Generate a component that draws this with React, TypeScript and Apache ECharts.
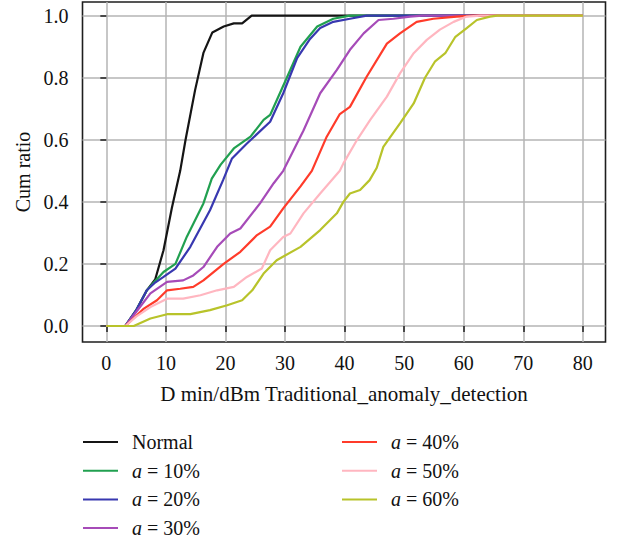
import React, { useEffect, useRef } from "react";
import * as echarts from "echarts";

const seriesNames = ["Normal", "a = 10%", "a = 20%", "a = 30%", "a = 40%", "a = 50%", "a = 60%"];
const seriesColors = ["#151515", "#21a050", "#3838b0", "#a64bb8", "#ff3b2a", "#ffb6c0", "#b8c32a"];

const normal = [[0,0],[3.2,0],[5,0.05],[6.8,0.115],[8.2,0.15],[9.6,0.244],[11,0.38],[12.4,0.5],[13.3,0.6],[14.9,0.76],[16.3,0.88],[17.8,0.946],[19.7,0.965],[21.4,0.975],[22.8,0.975],[24.4,1.0],[80,1.0]];
const a10 = [[0,0],[3.2,0],[5,0.05],[6.8,0.115],[8.2,0.145],[9.6,0.174],[11.6,0.2],[13.5,0.287],[16.3,0.395],[17.7,0.475],[19.2,0.52],[21.4,0.572],[24.2,0.61],[26.4,0.664],[27.5,0.68],[30.3,0.8],[32.6,0.9],[35.4,0.965],[38.1,0.99],[40.9,1.0],[80,1.0]];
const a20 = [[0,0],[3.2,0],[5,0.05],[6.8,0.115],[8.2,0.14],[9.6,0.158],[11.6,0.185],[14.1,0.255],[17.4,0.373],[19.6,0.47],[21.1,0.54],[23.6,0.588],[27.5,0.658],[29.7,0.75],[32,0.862],[34.2,0.925],[35.9,0.96],[38.1,0.98],[40.9,0.99],[43.7,1.0],[80,1.0]];
const a30 = [[0,0],[3.2,0],[5,0.045],[7.4,0.105],[10.2,0.142],[12.9,0.147],[14.6,0.163],[16.3,0.19],[18.6,0.255],[20.8,0.298],[22.5,0.314],[25.8,0.395],[28.1,0.46],[29.7,0.5],[33.1,0.63],[35.9,0.75],[38.7,0.825],[40.9,0.89],[43.2,0.943],[45.7,0.986],[48.2,0.99],[51,0.997],[53,1.0],[80,1.0]];
const a40 = [[0,0],[3.2,0],[6.3,0.056],[8.5,0.083],[10.2,0.115],[12.4,0.12],[14.6,0.126],[16.3,0.147],[19.7,0.2],[22.5,0.239],[25.3,0.293],[27.5,0.32],[29.7,0.379],[32.6,0.45],[34.5,0.5],[37,0.61],[39.2,0.683],[40.9,0.706],[43.7,0.803],[47.1,0.91],[49.3,0.943],[52.1,0.98],[54.9,0.99],[58.8,0.997],[61.6,1.0],[80,1.0]];
const a50 = [[0,0],[3.2,0],[5,0.03],[7.4,0.061],[10.2,0.088],[12.9,0.088],[15.8,0.099],[18.6,0.115],[21.4,0.126],[23.6,0.158],[26.1,0.185],[27.5,0.244],[29.7,0.287],[30.9,0.298],[33.1,0.363],[35.9,0.427],[39.2,0.5],[39.8,0.524],[42.1,0.6],[44.3,0.664],[47.1,0.739],[49.3,0.814],[51.6,0.879],[53.8,0.922],[56,0.955],[58.3,0.98],[60.5,0.997],[62.8,1.0],[80,1.0]];
const a60 = [[0,0],[4.6,0],[7.4,0.024],[10.2,0.038],[14.1,0.038],[17.4,0.051],[20.3,0.067],[22.8,0.083],[24.5,0.115],[26.4,0.169],[28.6,0.212],[32.6,0.255],[35.9,0.309],[38.7,0.363],[39.8,0.4],[40.9,0.427],[42.6,0.438],[44.2,0.47],[45.4,0.51],[46.5,0.577],[49.3,0.653],[51.6,0.717],[53.5,0.8],[55.2,0.853],[56.9,0.879],[58.6,0.932],[60.5,0.96],[62.2,0.986],[64.4,0.997],[65.6,1.0],[80,1.0]];
const allData = [normal, a10, a20, a30, a40, a50, a60];

const xTicks = [0, 10, 20, 30, 40, 50, 60, 70, 80];
const yTicks = [0, 0.2, 0.4, 0.6, 0.8, 1.0];

const FONT = "Liberation Serif, DejaVu Serif, serif";

export default function App() {
  const ref = useRef<HTMLDivElement>(null);
  useEffect(() => {
    document.body.style.margin = "0";
    const chart = echarts.init(ref.current!, null, { renderer: "svg" });
    const tok = { fontFamily: FONT, fontSize: 20, lineHeight: 20, color: "#111" };
    const rich = {
      t: { ...tok },
      tp: { ...tok, padding: [0, 0, 0, 9] },
      ip: { ...tok, fontStyle: "italic", padding: [0, 0, 0, 9] },
    };
    const fmt = (name: string) => {
      if (name === "Normal") return "{tp|Normal}";
      return "{ip|a}{t| =" + name.slice(3) + "}";
    };
    const legendBase = {
      orient: "vertical",
      top: 432,
      height: 110,
      padding: 0,
      icon: "rect",
      itemWidth: 35,
      itemHeight: 2,
      itemGap: 8.7,
      formatter: fmt,
      textStyle: { ...tok, rich },
      selectedMode: false,
    };
    chart.setOption({
      animation: false,
      backgroundColor: "#fff",
      grid: { left: 82.5, right: 11.5, top: 2, bottom: 200, show: true, borderColor: "#1e1e1e", borderWidth: 1.6, containLabel: false },
      legend: [
        { ...legendBase, left: 83, data: seriesNames.slice(0, 4) },
        { ...legendBase, left: 342, data: seriesNames.slice(4) },
      ],
      xAxis: {
        type: "value",
        min: -4,
        max: 83.8,
        name: "D min/dBm Traditional_anomaly_detection",
        nameLocation: "middle",
        nameGap: 41,
        nameTextStyle: { fontFamily: FONT, fontSize: 21, color: "#111" },
        axisLine: { show: false },
        axisTick: { show: true, inside: false, length: 6, customValues: xTicks, lineStyle: { color: "#1e1e1e", width: 1.5 } },
        axisLabel: { customValues: xTicks, margin: 11, fontFamily: FONT, fontSize: 20, color: "#111" },
        splitLine: { show: true, lineStyle: { color: "#b5b5b5", width: 1.5 } },
      },
      yAxis: {
        type: "value",
        min: -0.0516,
        max: 1.044,
        name: "Cum ratio",
        nameLocation: "middle",
        nameGap: 50,
        nameTextStyle: { fontFamily: FONT, fontSize: 20, color: "#111" },
        axisLine: { show: false },
        axisTick: { show: true, inside: false, length: 6, customValues: yTicks, lineStyle: { color: "#1e1e1e", width: 1.5 } },
        axisLabel: { customValues: yTicks, margin: 14, fontFamily: FONT, fontSize: 20, color: "#111", formatter: (v: number) => v.toFixed(1) },
        splitLine: { show: true, lineStyle: { color: "#b5b5b5", width: 1.5 } },
      },
      series: seriesNames.map((name, i) => ({
        name,
        type: "line",
        data: allData[i],
        showSymbol: false,
        symbol: "none",
        smooth: false,
        color: seriesColors[i],
        lineStyle: { color: seriesColors[i], width: 2.2 },
      })),
    });
    return () => chart.dispose();
  }, []);
  return <div ref={ref} style={{ width: 617, height: 542 }} />;
}
